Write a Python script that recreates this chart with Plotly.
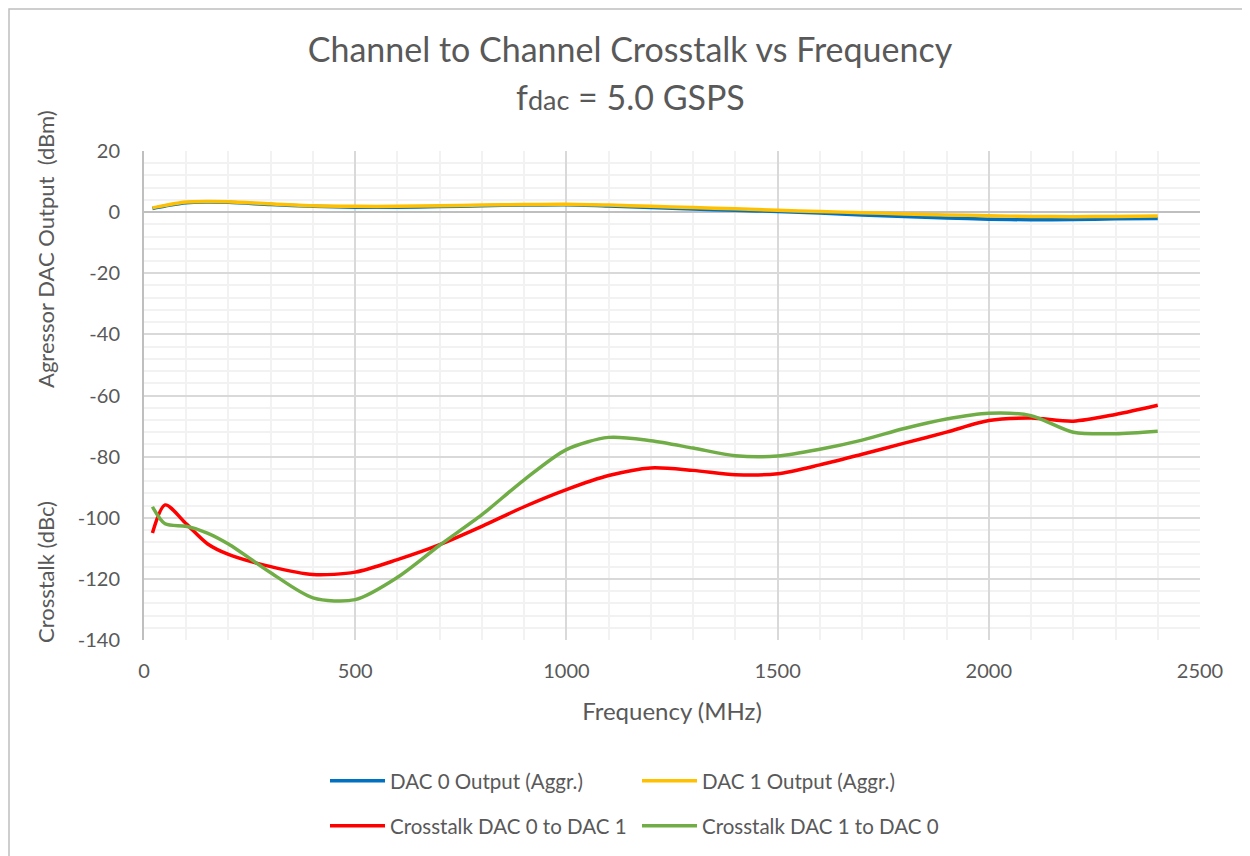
import plotly.graph_objects as go

freq = [20, 50, 100, 150, 200, 300, 400, 500, 600, 700, 800, 900, 1000, 1100, 1200,
        1300, 1400, 1500, 1600, 1700, 1800, 1900, 2000, 2100, 2200, 2300, 2400]

dac0_out = [1.2, 2.0, 3.1, 3.3, 3.2, 2.5, 1.9, 1.6, 1.6, 1.8, 2.1, 2.3, 2.4, 2.0, 1.5,
            1.0, 0.6, 0.2, -0.3, -0.9, -1.4, -1.9, -2.3, -2.5, -2.4, -2.2, -2.1]
dac1_out = [1.4, 2.2, 3.3, 3.5, 3.4, 2.7, 2.1, 1.9, 1.9, 2.1, 2.3, 2.5, 2.6, 2.3, 1.9,
            1.5, 1.1, 0.6, 0.2, -0.2, -0.6, -0.9, -1.2, -1.4, -1.5, -1.4, -1.3]
xtalk_0to1 = [-105, -95.8, -102, -108.5, -112, -116, -118.6, -117.8, -113.7, -108.8, -102.8,
              -96.4, -90.8, -86.2, -83.7, -84.5, -85.9, -85.6, -82.7, -79.2, -75.6, -72.0,
              -68.2, -67.4, -68.4, -66.2, -63.2]
xtalk_1to0 = [-96.4, -102, -102.8, -105, -108.6, -118, -126.2, -126.8, -119.5, -109, -99,
              -87.6, -77.7, -73.7, -74.8, -77.2, -79.7, -79.8, -77.6, -74.6, -70.8, -67.7,
              -65.8, -66.6, -72, -72.5, -71.7]

x_ticks = [0, 500, 1000, 1500, 2000, 2500]
x_tick_labels = ["0", "500", "1000", "1500", "2000", "2500"]
y_ticks = [20, 0, -20, -40, -60, -80, -100, -120, -140]
y_tick_labels = ["20", "0", "-20", "-40", "-60", "-80", "-100", "-120", "-140"]

names = ["DAC 0 Output (Aggr.)", "DAC 1 Output (Aggr.)",
         "Crosstalk DAC 0 to DAC 1", "Crosstalk DAC 1 to DAC 0"]
colors = ["#0070C0", "#FFC000", "#FF0000", "#70AD47"]
series = [dac0_out, dac1_out, xtalk_0to1, xtalk_1to0]
legends = ["legend", "legend", "legend2", "legend2"]

FONT = "Lato"
GREY = "#595959"

fig = go.Figure()
for name, col, ys, lg in zip(names, colors, series, legends):
    fig.add_trace(go.Scatter(
        x=freq, y=ys, name=name, mode="lines",
        line=dict(color=col, width=3.5, shape="spline", smoothing=0.8),
        legend=lg,
    ))

# page body adds an 8px offset; target screen positions are converted accordingly
OFF = 8
W, H = 1250, 856
L = 144 - OFF
T = 151 - OFF
R = W - (1200 - OFF)
B = H - (640 - OFF)
pw = W - L - R
ph = H - T - B

def px_x(s):
    return (s - OFF - L) / pw

def px_y(s):
    return 1 - (s - OFF - T) / ph

fig.update_layout(
    width=W, height=H,
    margin=dict(l=L, r=R, t=T, b=B),
    paper_bgcolor="white", plot_bgcolor="white",
    font=dict(family=FONT, color=GREY, size=20),
    title=dict(
        text="Channel to Channel Crosstalk vs Frequency",
        x=(630 - OFF) / W, xanchor="center",
        yref="container", y=1 - (50 - OFF) / H, yanchor="middle",
        font=dict(family=FONT, size=34, color=GREY),
    ),
    xaxis=dict(
        range=[0, 2500], tickvals=x_ticks, ticktext=x_tick_labels,
        showgrid=True, gridcolor="#D9D9D9", gridwidth=1.5,
        minor=dict(dtick=100, showgrid=True, gridcolor="#F2F2F2", gridwidth=1.5),
        zeroline=False, showline=False, ticks="",
        title=dict(text="Frequency (MHz)", font=dict(size=24, color=GREY), standoff=22),
        tickfont=dict(size=20, color=GREY),
        ticklabelstandoff=17,
        automargin=False,
    ),
    yaxis=dict(
        range=[-140, 20], tickvals=y_ticks, ticktext=y_tick_labels,
        showgrid=True, gridcolor="#D9D9D9", gridwidth=1.5,
        minor=dict(dtick=4, showgrid=True, gridcolor="#F2F2F2", gridwidth=1.5),
        zeroline=True, zerolinecolor="#BFBFBF", zerolinewidth=2,
        showline=True, linecolor="#BFBFBF", linewidth=2, ticks="",
        tickfont=dict(size=20, color=GREY),
        ticklabelstandoff=18,
        automargin=False,
    ),
    legend=dict(
        orientation="h", x=px_x(325), xanchor="left", y=px_y(761), yanchor="top",
        entrywidth=242, entrywidthmode="pixels", itemwidth=55,
        font=dict(size=20.5, color=GREY), bgcolor="rgba(0,0,0,0)",
    ),
    legend2=dict(
        orientation="h", x=px_x(325), xanchor="left", y=px_y(806), yanchor="top",
        entrywidth=242, entrywidthmode="pixels", itemwidth=55,
        font=dict(size=20.5, color=GREY), bgcolor="rgba(0,0,0,0)",
    ),
    showlegend=True,
)

fig.add_annotation(
    text="f<span style='font-size:27px'>dac</span> = 5.0 GSPS",
    xref="paper", yref="paper", x=px_x(630), y=px_y(97),
    xanchor="center", yanchor="middle", showarrow=False,
    font=dict(size=34, color=GREY, family=FONT),
)
fig.add_annotation(
    text="Agressor DAC Output  (dBm)", textangle=-90,
    xref="paper", yref="paper", x=px_x(45), y=px_y(249),
    xanchor="center", yanchor="middle", showarrow=False,
    font=dict(size=22, color=GREY, family=FONT),
)
fig.add_annotation(
    text="Crosstalk (dBc)", textangle=-90,
    xref="paper", yref="paper", x=px_x(45), y=px_y(572),
    xanchor="center", yanchor="middle", showarrow=False,
    font=dict(size=22, color=GREY, family=FONT),
)

fig.add_shape(
    type="rect", xref="paper", yref="paper",
    x0=px_x(OFF + 1), x1=px_x(1270), y0=px_y(OFF + 1), y1=px_y(880),
    line=dict(color="#BFBFBF", width=1.5), fillcolor="rgba(0,0,0,0)", layer="below",
)

fig.write_html("out.html")
